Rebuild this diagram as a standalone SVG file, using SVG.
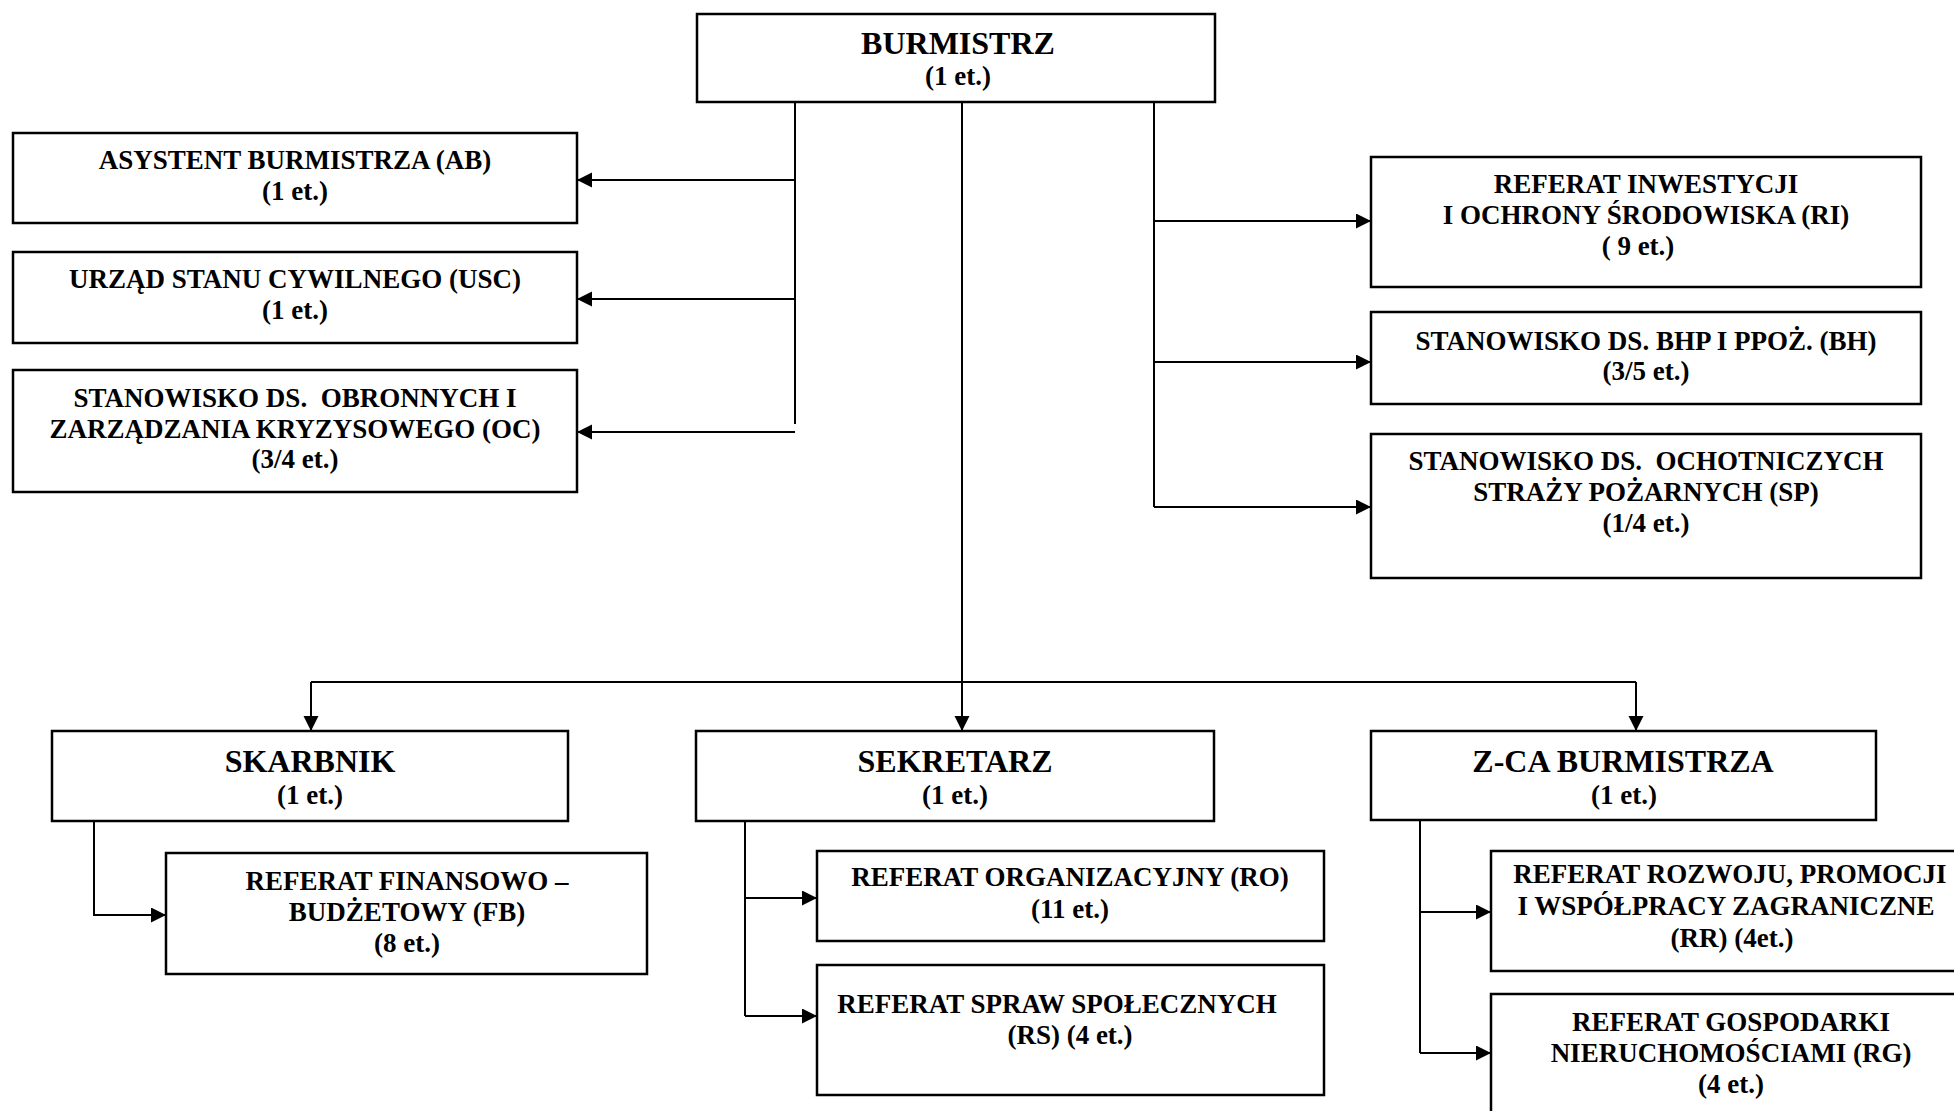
<svg xmlns="http://www.w3.org/2000/svg" width="1954" height="1111" viewBox="0 0 1954 1111">
<defs>
<style>
.box{fill:#fff;stroke:#000;stroke-width:2.5}
.ln{fill:none;stroke:#000;stroke-width:2}
.ar{fill:none;stroke:#000;stroke-width:2;marker-end:url(#ah)}
text{font-family:"Liberation Serif","Times New Roman",serif;font-weight:bold;font-size:27px;text-anchor:middle;fill:#000}
.h{font-size:32px}
.pre{white-space:pre}
</style>
<marker id="ah" markerUnits="userSpaceOnUse" markerWidth="16" markerHeight="16" refX="15" refY="7.5" orient="auto">
<path d="M0,0 L15,7.5 L0,15 z" fill="#000"/>
</marker>
</defs>
<rect width="1954" height="1111" fill="#fff"/>

<g id="connectors">
<path class="ln" d="M795,102 V424"/>
<path class="ar" d="M795,180 H577"/>
<path class="ar" d="M795,299 H577"/>
<path class="ar" d="M795,432 H577"/>
<path class="ar" d="M962,102 V731"/>
<path class="ln" d="M1154,102 V507"/>
<path class="ar" d="M1154,221 H1371"/>
<path class="ar" d="M1154,362 H1371"/>
<path class="ar" d="M1154,507 H1371"/>
<path class="ln" d="M311,682 H1636"/>
<path class="ar" d="M311,682 V731"/>
<path class="ar" d="M1636,682 V731"/>
<path class="ar" d="M94,821 V915 H166"/>
<path class="ln" d="M745,821 V1016"/>
<path class="ar" d="M745,898 H817"/>
<path class="ar" d="M745,1016 H817"/>
<path class="ln" d="M1420,820 V1053"/>
<path class="ar" d="M1420,912 H1491"/>
<path class="ar" d="M1420,1053 H1491"/>
</g>

<g id="burmistrz">
<rect class="box" x="697" y="14" width="518" height="88"/>
<text class="h" x="958" y="54">BURMISTRZ</text>
<text x="958" y="85">(1 et.)</text>
</g>

<g id="ab">
<rect class="box" x="13" y="133" width="564" height="90"/>
<text x="295" y="169">ASYSTENT BURMISTRZA (AB)</text>
<text x="295" y="200">(1 et.)</text>
</g>

<g id="usc">
<rect class="box" x="13" y="252" width="564" height="91"/>
<text x="295" y="288">URZĄD STANU CYWILNEGO (USC)</text>
<text x="295" y="319">(1 et.)</text>
</g>

<g id="oc">
<rect class="box" x="13" y="370" width="564" height="122"/>
<text class="pre" xml:space="preserve" x="295" y="407">STANOWISKO DS.  OBRONNYCH I</text>
<text x="295" y="438">ZARZĄDZANIA KRYZYSOWEGO (OC)</text>
<text x="295" y="468">(3/4 et.)</text>
</g>

<g id="ri">
<rect class="box" x="1371" y="157" width="550" height="130"/>
<text x="1646" y="193">REFERAT INWESTYCJI</text>
<text x="1646" y="224">I OCHRONY ŚRODOWISKA (RI)</text>
<text x="1638" y="255">( 9 et.)</text>
</g>

<g id="bh">
<rect class="box" x="1371" y="312" width="550" height="92"/>
<text x="1646" y="350">STANOWISKO DS. BHP I PPOŻ. (BH)</text>
<text x="1646" y="380">(3/5 et.)</text>
</g>

<g id="sp">
<rect class="box" x="1371" y="434" width="550" height="144"/>
<text class="pre" xml:space="preserve" x="1646" y="470">STANOWISKO DS.  OCHOTNICZYCH</text>
<text x="1646" y="501">STRAŻY POŻARNYCH (SP)</text>
<text x="1646" y="532">(1/4 et.)</text>
</g>

<g id="skarbnik">
<rect class="box" x="52" y="731" width="516" height="90"/>
<text class="h" x="310" y="772">SKARBNIK</text>
<text x="310" y="804">(1 et.)</text>
</g>

<g id="fb">
<rect class="box" x="166" y="853" width="481" height="121"/>
<text x="407" y="890">REFERAT FINANSOWO –</text>
<text x="407" y="921">BUDŻETOWY (FB)</text>
<text x="407" y="952">(8 et.)</text>
</g>

<g id="sekretarz">
<rect class="box" x="696" y="731" width="518" height="90"/>
<text class="h" x="955" y="772">SEKRETARZ</text>
<text x="955" y="804">(1 et.)</text>
</g>

<g id="ro">
<rect class="box" x="817" y="851" width="507" height="90"/>
<text x="1070" y="886">REFERAT ORGANIZACYJNY (RO)</text>
<text x="1070" y="918">(11 et.)</text>
</g>

<g id="rs">
<rect class="box" x="817" y="965" width="507" height="130"/>
<text x="1057" y="1013">REFERAT SPRAW SPOŁECZNYCH</text>
<text x="1070" y="1044">(RS) (4 et.)</text>
</g>

<g id="zca">
<rect class="box" x="1371" y="731" width="505" height="89"/>
<text class="h" x="1623" y="772">Z-CA BURMISTRZA</text>
<text x="1624" y="804">(1 et.)</text>
</g>

<g id="rr">
<rect class="box" x="1491" y="851" width="480" height="120"/>
<text x="1730" y="883">REFERAT ROZWOJU, PROMOCJI</text>
<text x="1726" y="915">I WSPÓŁPRACY ZAGRANICZNE</text>
<text x="1732" y="947">(RR) (4et.)</text>
</g>

<g id="rg">
<rect class="box" x="1491" y="994" width="480" height="140"/>
<text x="1731" y="1031">REFERAT GOSPODARKI</text>
<text x="1731" y="1062">NIERUCHOMOŚCIAMI (RG)</text>
<text x="1731" y="1093">(4 et.)</text>
</g>
</svg>
